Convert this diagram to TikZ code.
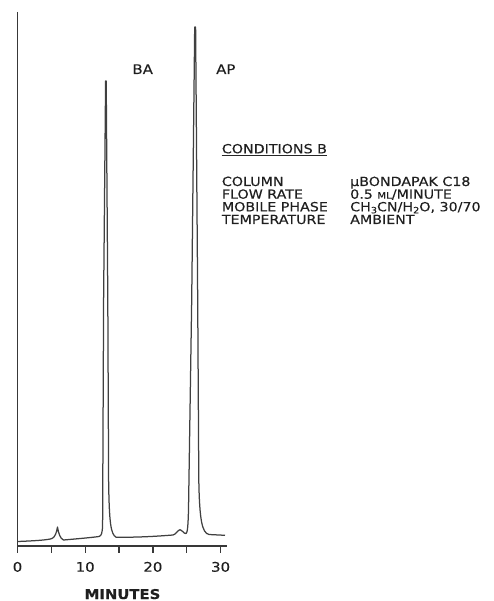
\documentclass[tikz,border=0pt]{standalone}
\usepackage{fontspec}
\setmainfont{DejaVu Sans}[FakeStretch=1.13, FakeBold=0.3, BoldFont={DejaVu Sans Bold}, BoldFeatures={FakeStretch=1.1}]
\begin{document}
\begin{tikzpicture}[x=1pt,y=-1pt,
  ink/.style={draw=black!78, line width=1.2pt},
  trace/.style={draw=black!75, line width=1.25pt, line join=round},
  lbl/.style={inner sep=0pt, text=black!88, font=\fontsize{12.6}{12.6}\selectfont},
  row/.style={lbl, anchor=base west},
  ticklbl/.style={lbl, anchor=base}]
\newcommand{\subnum}[1]{\raisebox{-2pt}{\fontsize{8.6}{8.6}\selectfont #1}}
\useasboundingbox (0,0) rectangle (493,601);
% axes
\coordinate (ytop) at (17.5,12);
\coordinate (origin) at (17.5,546);
\coordinate (xend) at (226.5,546);
\draw[ink] (ytop) -- (origin) -- (xend);
\foreach \t in {0,5,...,30}{
  \draw[ink] (17.5+6.77*\t,546) -- (17.5+6.77*\t,553);
}
\foreach \t in {0,10,20,30}{
  \node[ticklbl, font=\fontsize{13.2}{13.2}\selectfont] (t\t) at (17.5+6.77*\t,571.7) {\t};
}
\node[lbl, anchor=base, font=\fontsize{13.5}{13.5}\selectfont\bfseries] (minutes) at (122.5,599) {MINUTES};
% chromatogram trace
\draw[trace] (17.5,541.5) .. controls (35,540.8) and (48,540) .. (52,538.5)
  .. controls (55,537) and (56.5,533) .. (57.5,527)
  .. controls (58.5,533) and (60,538.5) .. (63.5,540)
  .. controls (75,539) and (92,537.5) .. (99,536.5)
  .. controls (101.5,535.8) and (102.3,533) .. (102.6,525)
  -- (103.6,300) -- (105.6,81) -- (106.2,81) -- (107.8,300) -- (108.6,480)
  .. controls (109.2,525) and (111,534) .. (116,537.2)
  .. controls (140,537.5) and (160,536) .. (173,535)
  .. controls (176,534.5) and (178,529.8) .. (180,529.8)
  .. controls (182,529.8) and (184,534) .. (186,533.5)
  .. controls (187.3,533) and (188,528) .. (188.5,510)
  -- (191.7,300) -- (194.7,27) -- (195.6,27) -- (197.7,300) -- (198.8,480)
  .. controls (199.5,520) and (202,533) .. (209,534.5) -- (225,535.3);
% peak labels
\node[lbl, anchor=base west, font=\fontsize{13.2}{13.2}\selectfont] (ba) at (132.3,74) {BA};
\node[lbl, anchor=base west, font=\fontsize{13.2}{13.2}\selectfont] (ap) at (216,74) {AP};
% conditions
\node[row] (cond) at (221.7,153.3) {CONDITIONS B};
\draw[draw=black!85, line width=0.9pt] ([yshift=-2.6pt]cond.base west) -- ([yshift=-2.6pt]cond.base east);
\node[row] (k1) at (221.7,186) {COLUMN};
\node[row] (k2) at (221.7,198.7) {FLOW RATE};
\node[row] (k3) at (221.7,211.3) {MOBILE PHASE};
\node[row] (k4) at (221.7,224) {TEMPERATURE};
\node[row] (v1) at (350,186) {µBONDAPAK C18};
\node[row] (v2) at (350,198.7) {0.5 {\fontsize{9}{9}\selectfont ML}/MINUTE};
\node[row] (v3) at (350,211.3) {CH\subnum{3}CN/H\subnum{2}O, 30/70};
\node[row] (v4) at (350,224) {AMBIENT};
\end{tikzpicture}
\end{document}
